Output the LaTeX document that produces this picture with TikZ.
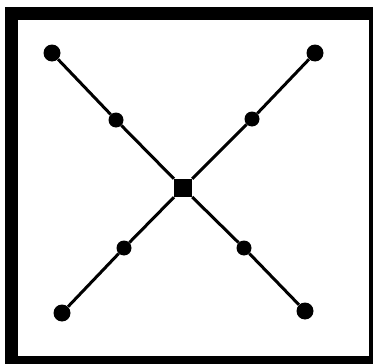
\documentclass[tikz,border=0pt]{standalone}
\begin{document}
\begin{tikzpicture}[x=1pt,y=-1pt,
  enddot/.style={circle,fill=black,inner sep=0pt,minimum size=17pt},
  middot/.style={circle,fill=black,inner sep=0pt,minimum size=15pt},
  hub/.style={rectangle,fill=black,inner sep=0pt,minimum size=18pt},
  link/.style={line width=3pt,black}]
\useasboundingbox (0,0) rectangle (373,364);
% frame
\fill[black] (5,7) rectangle (373,364);
\fill[white] (18,20) rectangle (369,356);
% nodes
\node[hub] (c) at (183,188) {};
\node[enddot] (tl) at (52,53) {};
\node[middot] (tlm) at (116,120) {};
\node[enddot] (br) at (305,311) {};
\node[middot] (brm) at (244,248) {};
\node[enddot] (tr) at (315,53) {};
\node[middot] (trm) at (252,119) {};
\node[enddot] (bl) at (62,313) {};
\node[middot] (blm) at (124,248) {};
% links
\draw[link] (tl) -- (tlm);
\draw[link] (tlm) -- (c);
\draw[link] (c) -- (brm);
\draw[link] (brm) -- (br);
\draw[link] (tr) -- (trm);
\draw[link] (trm) -- (c);
\draw[link] (c) -- (blm);
\draw[link] (blm) -- (bl);
\end{tikzpicture}
\end{document}
